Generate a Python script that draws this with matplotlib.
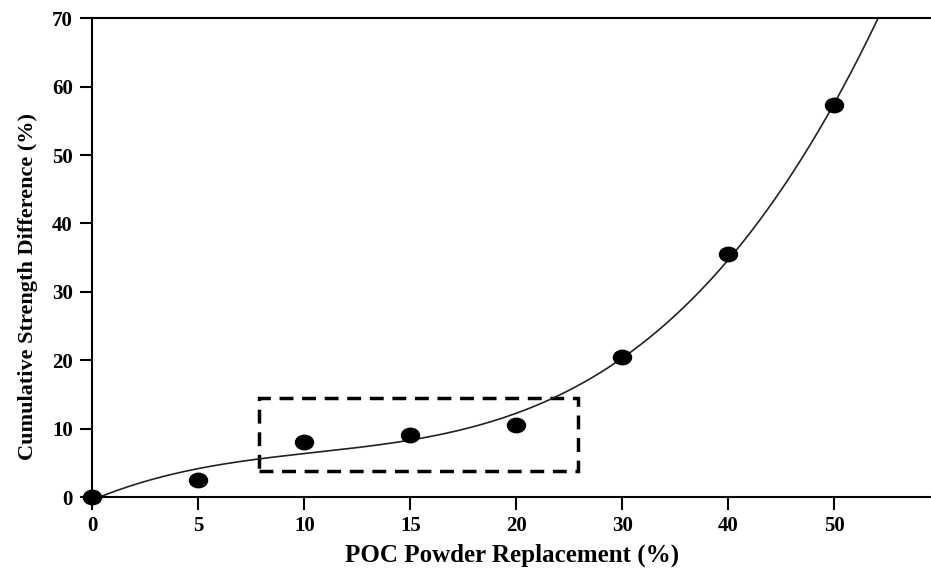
import numpy as np
import matplotlib
matplotlib.use("Agg")
from matplotlib import pyplot as plt
from matplotlib.patches import Rectangle
from matplotlib.path import Path

# POC replacement levels (plotted as evenly spaced categories)
replacement = [0, 5, 10, 15, 20, 30, 40, 50]
strength_diff = [0.0, 2.5, 8.0, 9.0, 10.5, 20.5, 35.5, 57.3]
yticks = [0, 10, 20, 30, 40, 50, 60, 70]

plt.rcParams['font.family'] = ['Liberation Serif', 'DejaVu Serif']
plt.rcParams['font.weight'] = 'bold'

fig = plt.figure(figsize=(9.31, 5.70), dpi=100)
ax = fig.add_axes([0.099, 0.128, 0.901, 0.840])

pos = np.arange(len(replacement))

# cubic trend line through the points
coef = np.polyfit(pos, strength_diff, 3)
xx = np.linspace(0, 7.9, 300)
ax.plot(xx, np.polyval(coef, xx), color='#222222', lw=1.2)

# slightly wide elliptical dots, like the original
circ = Path.unit_circle()
ellipse = Path(circ.vertices * [1.0, 0.8], circ.codes)
ax.plot(pos, strength_diff, linestyle='none', marker=ellipse, color='black',
        markersize=13, clip_on=False, zorder=5)

# highlight box around the plateau region
box = Rectangle((1.57, 3.8), 3.01, 10.7, fill=False, edgecolor='black',
                lw=2.5, linestyle=(0, (4, 2.5)))
ax.add_patch(box)

ax.set_xlim(0, 7.91)
ax.set_ylim(0, 70)
ax.set_xticks(pos)
ax.set_xticklabels([str(r) for r in replacement])
ax.set_yticks(yticks)

ax.spines['right'].set_visible(False)
for s in ['left', 'bottom', 'top']:
    ax.spines[s].set_linewidth(1.5)
ax.tick_params(direction='out', length=9, width=1.5, labelsize=15, pad=5)
for lbl in ax.get_xticklabels() + ax.get_yticklabels():
    lbl.set_fontweight('bold')

ax.set_xlabel("POC Powder Replacement (%)", fontsize=18, fontweight='bold', labelpad=5)
ax.set_ylabel("Cumulative Strength Difference (%)", fontsize=16, fontweight='bold')
ax.yaxis.set_label_coords(-0.064, 0.44)

fig.savefig("out.png", dpi=100)
